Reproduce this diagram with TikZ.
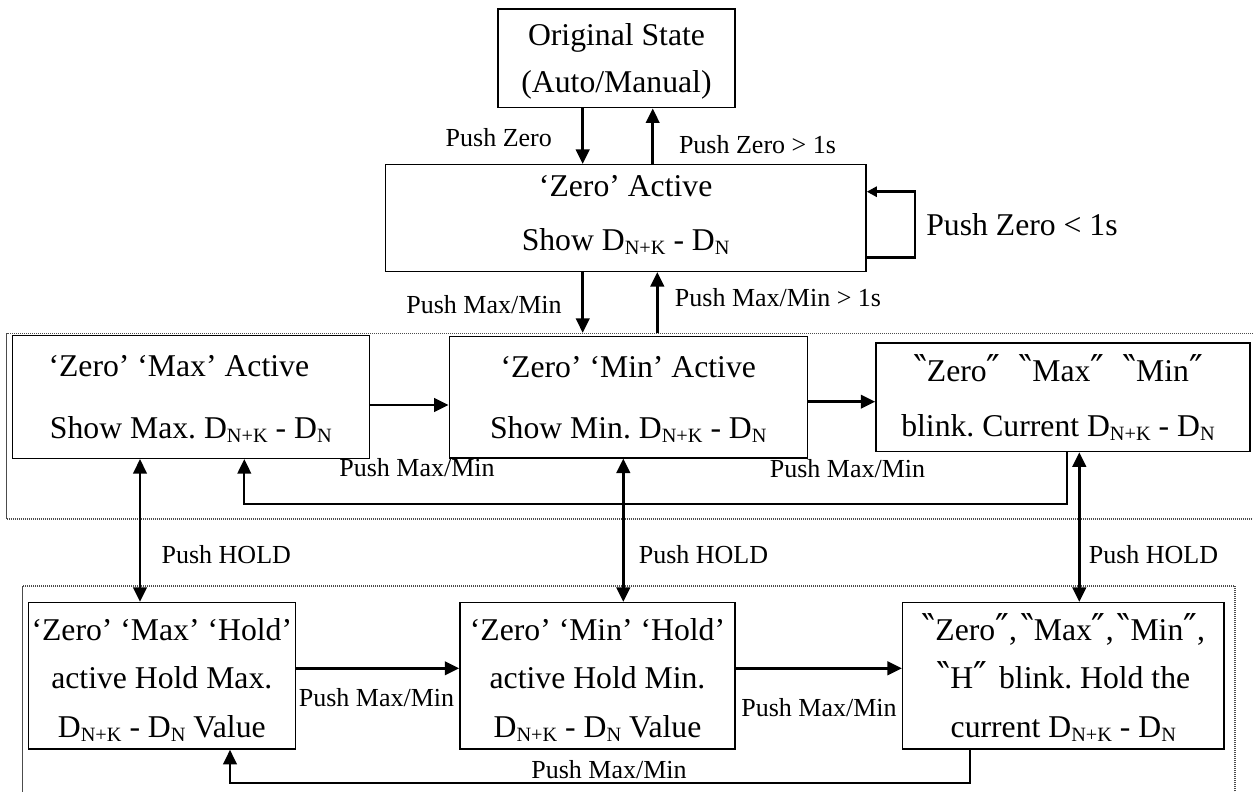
\documentclass[tikz,border=0pt]{standalone}
\usepackage{fontspec}
\setmainfont{Liberation Serif}
\newfontfamily\qf{DejaVu Sans}
\usetikzlibrary{arrows.meta}
\frenchspacing
\newcommand{\sbs}[1]{\raisebox{-4pt}{\fontsize{20.3}{20}\selectfont #1}}
\newcommand{\st}[2]{\rule[-#1pt]{0pt}{#2pt}}
\newcommand{\ql}{{\qf\fontsize{37}{37}\selectfont ‶}}
\newcommand{\qr}{{\qf\fontsize{37}{37}\selectfont ″}}
\newcommand{\bfnt}[1]{\fontsize{31.7}{#1}\selectfont\lineskiplimit-30pt\relax}
\begin{document}
\begin{tikzpicture}[x=1pt,y=-1pt,
  box/.style={draw, line width=1.5pt, inner sep=0pt, align=center},
  lab/.style={font=\fontsize{26}{30}\selectfont, inner sep=0pt, anchor=base},
  big/.style={font=\fontsize{31.7}{36}\selectfont, inner sep=0pt, anchor=base},
  tip/.style={-{Triangle[width=13.5pt,length=14.5pt]}},
  arr/.style={line width=2.6pt, tip},
  farr/.style={line width=2.2pt, tip},
  darr/.style={line width=2.6pt, {Triangle[width=13.5pt,length=14.5pt]}-{Triangle[width=13.5pt,length=14.5pt]}},
  grp/.style={draw=black!70, line width=1.3pt, dash pattern=on 1.2pt off 0.8pt, inner sep=0pt},
]
\useasboundingbox (0,0) rectangle (1253,792);

% helper coordinates
\coordinate (x1) at (582.7,0);
\coordinate (x2) at (652.7,0);
\coordinate (x3) at (657.3,0);
\coordinate (xh1) at (140,0);
\coordinate (xh2) at (623.3,0);
\coordinate (xh3) at (1079.3,0);
\coordinate (xf1) at (1066.7,0);
\coordinate (xf2) at (244.3,0);
\coordinate (yf1) at (0,504.3);
\coordinate (xf3) at (970,0);
\coordinate (xf4) at (230,0);
\coordinate (yf2) at (0,783.3);
\coordinate (xl) at (915,0);
\coordinate (yl1) at (0,257.7);
\coordinate (yl2) at (0,191.7);
\coordinate (ya) at (0,405);
\coordinate (yb) at (0,401.7);
\coordinate (yc) at (0,668.3);

% groups
\node[grp, minimum width=1255.3pt, minimum height=185.5pt] (g1) at (634.35,426.25) {};
\node[grp, minimum width=1212.3pt, minimum height=219pt] (g2) at (628.85,695.5) {};

% boxes
\node[box, minimum width=237pt, minimum height=98.7pt, font=\bfnt{47.7}] (orig) at (616.5,58.35)
  {\st{13.35}{47.7}Original State\\\st{13.35}{47.7}(Auto/Manual)};
\node[box, minimum width=480.7pt, minimum height=100.6pt, font=\bfnt{53.3}] (zeroact) at (625.65,218)
  {\st{21.3}{53.3}‘Zero’ Active\\\st{21.3}{53.3}Show D\sbs{N+K} - D\sbs{N}};
\node[box, minimum width=357pt, minimum height=99.4pt, font=\bfnt{61.3}] (A) at (190.8,397)
  {\st{20.3}{61.3}‘Zero’ ‘Max’ Active\hspace*{24pt}\\\st{20.3}{61.3}Show Max. D\sbs{N+K} - D\sbs{N}};
\node[box, minimum width=358pt, minimum height=99pt, font=\bfnt{60.6}] (B) at (628.3,397.2)
  {\st{19.5}{60.6}‘Zero’ ‘Min’ Active\\\st{19.5}{60.6}Show Min. D\sbs{N+K} - D\sbs{N}};
\node[box, minimum width=374pt, minimum height=99pt, font=\bfnt{54.3}] (C) at (1063,397.2)
  {\st{15.5}{54.3}\ql Zero\qr\hspace{18pt}\ql Max\qr\hspace{18pt}\ql Min\qr\hspace*{10pt}\\\st{15.5}{54.3}blink. Current D\sbs{N+K} - D\sbs{N}\hspace*{10pt}};
\node[box, minimum width=267pt, minimum height=141.7pt, font=\bfnt{48.8}] (D) at (161.8,675.85)
  {\st{11.45}{48.8}‘Zero’ ‘Max’ ‘Hold’\\\st{11.45}{48.8}active Hold Max.\\\st{11.45}{48.8}D\sbs{N+K} - D\sbs{N} Value};
\node[box, minimum width=275pt, minimum height=141.7pt, font=\bfnt{48.8}] (E) at (597.5,675.85)
  {\st{11.45}{48.8}‘Zero’ ‘Min’ ‘Hold’\\\st{11.45}{48.8}active Hold Min.\\\st{11.45}{48.8}D\sbs{N+K} - D\sbs{N} Value};
\node[box, minimum width=321.3pt, minimum height=141.7pt, font=\bfnt{48.8}] (F) at (1063.35,675.85)
  {\st{11.45}{48.8}\ql Zero\qr,\hspace{3pt}\ql Max\qr,\hspace{3pt}\ql Min\qr,\\\st{11.45}{48.8}\ql H\qr\hspace{12pt}blink. Hold the\\\st{11.45}{48.8}current D\sbs{N+K} - D\sbs{N}};

% labels
\node[lab] (l1) at (498.8,146.7) {Push Zero};
\node[lab] (l2) at (757.5,153.3) {Push Zero > 1s};
\node[big] (l3) at (1022,235) {Push Zero < 1s};
\node[lab] (l4) at (484,313.3) {Push Max/Min};
\node[lab] (l5) at (778,306.7) {Push Max/Min > 1s};
\node[lab] (l6) at (417,476.7) {Push Max/Min};
\node[lab] (l7) at (847.5,477) {Push Max/Min};
\node[lab] (h1) at (226.3,563.3) {Push HOLD};
\node[lab] (h2) at (703.5,563.3) {Push HOLD};
\node[lab] (h3) at (1153.5,563.3) {Push HOLD};
\node[lab] (l8) at (376.5,706.7) {Push Max/Min};
\node[lab] (l9) at (819,716.7) {Push Max/Min};
\node[lab] (l10) at (609,778.3) {Push Max/Min};

% connectors
\draw[arr] (orig.south -| x1) -- (zeroact.north -| x1);
\draw[arr] (zeroact.north -| x2) -- (orig.south -| x2);
\draw[arr] (zeroact.south -| x1) -- (g1.north -| x1);
\draw[arr] (g1.north -| x3) -- (zeroact.south -| x3);
\draw[line width=2.6pt, -{Triangle[width=10pt,length=10pt]}]
  (zeroact.east |- yl1) -| (xl |- yl2) -- (zeroact.east |- yl2);
\draw[arr] (A.east |- ya) -- (B.west |- ya);
\draw[arr] (B.east |- yb) -- (C.west |- yb);
\draw[farr] (C.south -| xf1) |- (xf2 |- yf1) -- (A.south -| xf2);
\draw[darr] (A.south -| xh1) -- (D.north -| xh1);
\draw[darr] (B.south -| xh2) -- (E.north -| xh2);
\draw[darr] (C.south -| xh3) -- (F.north -| xh3);
\draw[arr] (D.east |- yc) -- (E.west |- yc);
\draw[arr] (E.east |- yc) -- (F.west |- yc);
\draw[farr] (F.south -| xf3) |- (xf4 |- yf2) -- (D.south -| xf4);
\end{tikzpicture}
\end{document}
